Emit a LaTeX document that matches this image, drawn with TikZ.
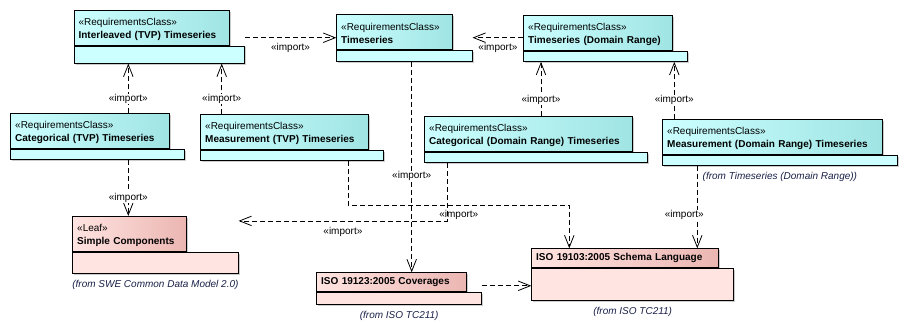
\documentclass[tikz,border=0pt]{standalone}
\usepackage{fontspec}
\setmainfont{Liberation Sans}
\usetikzlibrary{arrows.meta,positioning,shadows}
\definecolor{ReqCyan}{RGB}{204,255,255}
\definecolor{ReqCyanDark}{RGB}{160,228,228}
\definecolor{ExtPink}{RGB}{255,228,225}
\definecolor{ExtPinkDark}{RGB}{235,182,178}
\definecolor{FromBlue}{RGB}{25,32,72}

\newcommand{\stereo}[1]{\rule{0pt}{10pt}«#1»}

\tikzset{
  pkg/.style={draw, line width=0.8pt, anchor=north west, inner xsep=4.5pt, inner ysep=0pt,
    align=left, font=\fontsize{10}{12.8}\selectfont,
    drop shadow={shadow xshift=1.5pt, shadow yshift=-1.5pt, fill=black!40, opacity=0.5}},
  tabC/.style={pkg, left color=ReqCyan, right color=ReqCyanDark},
  bodyC/.style={pkg, fill=ReqCyan},
  tabP/.style={pkg, left color=ExtPink, right color=ExtPinkDark},
  bodyP/.style={pkg, fill=ExtPink},
  imp/.style={draw, line width=0.8pt, dash pattern=on 5pt off 3pt,
    -{Straight Barb[length=12pt,width=9.5pt]}},
  lbl/.style={font=\fontsize{10}{12}\selectfont, inner sep=0.5pt, fill=white},
  from/.style={font=\fontsize{10}{12}\selectfont\itshape, text=FromBlue, inner sep=0pt}
}

\begin{document}
\begin{tikzpicture}[x=1pt, y=-1pt]
  \useasboundingbox (0,0) rectangle (906,332);

  % requirements classes (TVP side)
  \node[tabC, minimum width=155.6, text width=146.6, minimum height=34.4] (interT) at (73.7,10.3)
    {\stereo{RequirementsClass}\\\textbf{Interleaved (TVP) Timeseries}};
  \node[bodyC, minimum width=170.3, minimum height=17.3] (interB) at (interT.south west) {};

  \node[tabC, minimum width=159, text width=150, minimum height=35.3] (catTvpT) at (10.3,113)
    {\stereo{RequirementsClass}\\\textbf{Categorical (TVP) Timeseries}};
  \node[bodyC, minimum width=174, minimum height=10] (catTvpB) at (catTvpT.south west) {};

  \node[tabC, minimum width=167.4, text width=158.4, minimum height=35] (measTvpT) at (200.3,114.3)
    {\stereo{RequirementsClass}\\\textbf{Measurement (TVP) Timeseries}};
  \node[bodyC, minimum width=182.4, minimum height=10] (measTvpB) at (measTvpT.south west) {};

  % core timeseries
  \node[tabC, minimum width=116, text width=107, minimum height=34.7] (tsT) at (336.3,14.3)
    {\stereo{RequirementsClass}\\\textbf{Timeseries}};
  \node[bodyC, minimum width=135.4, minimum height=11.3] (tsB) at (tsT.south west) {};

  % requirements classes (domain range side)
  \node[tabC, minimum width=149, text width=140, minimum height=35] (tdrT) at (523.3,15.3)
    {\stereo{RequirementsClass}\\\textbf{Timeseries (Domain Range)}};
  \node[bodyC, minimum width=164, minimum height=10] (tdrB) at (tdrT.south west) {};

  \node[tabC, minimum width=208, text width=199, minimum height=34.7] (catDrT) at (424.3,116.3)
    {\stereo{RequirementsClass}\\\textbf{Categorical (Domain Range) Timeseries}};
  \node[bodyC, minimum width=223, minimum height=10.3] (catDrB) at (catDrT.south west) {};

  \node[tabC, minimum width=219.4, text width=210.4, minimum height=35] (measDrT) at (662.3,119.3)
    {\stereo{RequirementsClass}\\\textbf{Measurement (Domain Range) Timeseries}};
  \node[bodyC, minimum width=234.4, minimum height=9.7] (measDrB) at (measDrT.south west) {};
  \node[from, below=6.8pt of measDrB] (measDrFrom) {(from Timeseries (Domain Range))};

  % external packages
  \node[tabP, minimum width=113.4, text width=104.4, minimum height=35] (simpleT) at (72.3,216)
    {\stereo{Leaf}\\\textbf{Simple Components}};
  \node[bodyP, minimum width=165.4, minimum height=21.3] (simpleB) at (simpleT.south west) {};
  \node[from, below=6.5pt of simpleB] (simpleFrom) {(from SWE Common Data Model 2.0)};

  \node[tabP, minimum width=150, text width=141, minimum height=18.7] (covT) at (316.3,272.3)
    {\textbf{ISO 19123:2005 Coverages}};
  \node[bodyP, minimum width=165, minimum height=12.3] (covB) at (covT.south west) {};
  \node[from, below=6.3pt of covB] (covFrom) {(from ISO TC211)};

  \node[tabP, minimum width=187, text width=178, minimum height=19] (schemaT) at (531.3,248.3)
    {\textbf{ISO 19103:2005 Schema Language}};
  \node[bodyP, minimum width=202, minimum height=32] (schemaB) at (schemaT.south west) {};
  \node[from, below=6.5pt of schemaB] (schemaFrom) {(from ISO TC211)};

  % bend points
  \coordinate (tsIn) at ([yshift=-5.7pt]tsT.west);
  \coordinate (tdrOut) at ([yshift=-4.5pt]tdrT.west);
  \coordinate (measTvpBend) at ([xshift=148pt, yshift=-44pt]measTvpB.south west);
  \coordinate (schemaIn) at ([xshift=38pt]schemaT.north west);
  \coordinate (catDrBend) at ([xshift=23pt, yshift=-58pt]catDrB.south west);
  \coordinate (covOut) at ([yshift=6pt]covB.north east);

  % imports
  \draw[imp] (tsIn -| interB.east) -- node[lbl, midway, below=5pt] {«import»} (tsIn);
  \draw[imp] (tdrOut) -- node[lbl, midway, below=5pt] {«import»} (tdrOut -| tsB.east);

  \draw[imp] ([xshift=118pt]catTvpT.north west)
    -- node[lbl, pos=0.28] {«import»} ([xshift=118pt]catTvpT.north west |- interB.south);
  \draw[imp] ([xshift=21.4pt]measTvpT.north west)
    -- node[lbl, pos=0.30] {«import»} ([xshift=21.4pt]measTvpT.north west |- interB.south);
  \draw[imp] ([xshift=116.7pt]catDrT.north west)
    -- node[lbl, pos=0.31] {«import»} ([xshift=116.7pt]catDrT.north west |- tdrB.south);
  \draw[imp] ([xshift=12pt]measDrT.north west)
    -- node[lbl, pos=0.33] {«import»} ([xshift=12pt]measDrT.north west |- tdrB.south);

  \draw[imp] ([xshift=118pt]catTvpB.south west)
    -- node[lbl, pos=0.67] {«import»} ([xshift=118pt]catTvpB.south west |- simpleT.north);
  \draw[imp] ([xshift=75.4pt]tsB.south west)
    -- node[lbl, pos=0.544] {«import»} ([xshift=75.4pt]tsB.south west |- covT.north);

  \draw[imp] ([xshift=148pt]measTvpB.south west) -- (measTvpBend)
    -| node[lbl, pos=0.25, below=4.5pt] {«import»} (schemaIn);
  \draw[imp] ([xshift=23pt]catDrB.south west) -- (catDrBend)
    -- node[lbl, midway, below=5pt] {«import»} (catDrBend -| simpleB.east);

  \draw[imp] ([xshift=35pt]measDrB.south west)
    -- node[lbl, pos=0.6, xshift=-13pt] {«import»} ([xshift=35pt]measDrB.south west |- schemaT.north);
  \draw[imp] (covOut) -- (covOut -| schemaB.west);
\end{tikzpicture}
\end{document}
